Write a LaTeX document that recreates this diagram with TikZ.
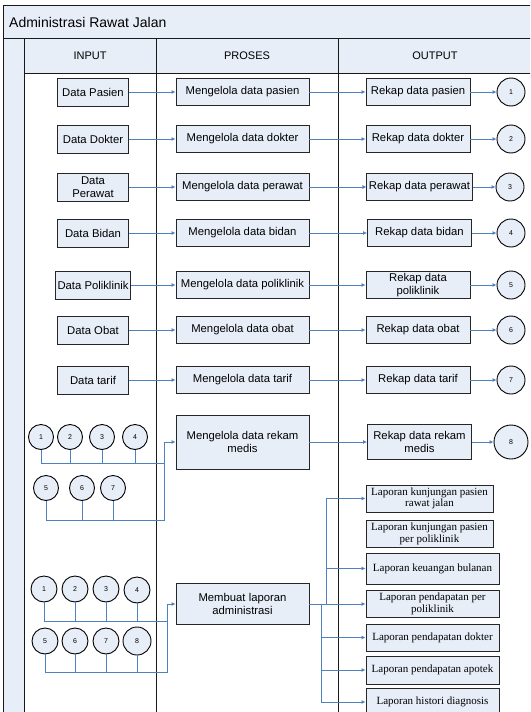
\documentclass[tikz,border=0pt]{standalone}
\usepackage{fontspec}
\setmainfont{Liberation Serif}
\setsansfont{Liberation Sans}
\usetikzlibrary{arrows.meta}
\usetikzlibrary{positioning}

\definecolor{laneblue}{RGB}{232,238,248}
\definecolor{flowblue}{RGB}{79,129,189}

\tikzset{
  lane/.style={draw=black!90, line width=1pt},
  box/.style={rectangle, draw=black!85, line width=0.9pt, fill=laneblue, align=center, inner sep=2pt, font=\sffamily\fontsize{11.3}{12.5}\selectfont},
  inbox/.style={box, minimum width=71pt, minimum height=28pt},
  procbox/.style={box, minimum width=133pt, minimum height=27pt},
  outbox/.style={box, minimum width=104pt, minimum height=27pt},
  repbox/.style={box, minimum width=133pt, minimum height=27pt, font=\rmfamily\fontsize{11}{11.5}\selectfont},
  conn/.style={circle, draw=black, line width=0.9pt, fill=laneblue, minimum size=26pt, inner sep=0pt, font=\sffamily\fontsize{7}{8}\selectfont},
  head/.style={font=\sffamily\fontsize{11}{12}\selectfont},
  wire/.style={draw=flowblue, line width=0.8pt},
  flow/.style={wire, -{Latex[length=4pt,width=4pt]}},
}

\begin{document}
\begin{tikzpicture}[x=1pt, y=-1pt]
 \useasboundingbox (0,0) rectangle (530,712);
 \clip (0,0) rectangle (530,712);

 % swimlane frame
 \fill [laneblue] (3,5) rectangle (540,38);
 \fill [laneblue] (24,38) rectangle (540,73);
 \fill [laneblue] (3,38) rectangle (24,720);
 \draw [lane] (3,5) rectangle (540,720);
 \draw [lane] (3,38) -- (540,38);
 \draw [lane] (24,73) -- (540,73);
 \draw [lane] (24,38) -- (24,720);
 \draw [lane] (156,38) -- (156,720);
 \draw [lane] (338,38) -- (338,720);

 \node [anchor=west, inner sep=0pt, font=\sffamily\fontsize{14}{15}\selectfont] (title) at (9,22) {Administrasi Rawat Jalan};
 \node [head] (hin) at (90,56) {INPUT};
 \node [head] (hpr) at (247,56) {PROSES};
 \node [head] (hout) at (435,56) {OUTPUT};

 % input
 \node [inbox] (in1) at (93,92) {Data Pasien};
 \node [inbox] (in2) at (93,139) {Data Dokter};
 \node [inbox] (in3) at (93,187) {Data\\Perawat};
 \node [inbox] (in4) at (93,233) {Data Bidan};
 \node [inbox] (in5) at (93,285) {Data Poliklinik};
 \node [inbox] (in6) at (93,330) {Data Obat};
 \node [inbox] (in7) at (93,380) {Data tarif};

 % proses
 \node [procbox] (pr1) at (242.5,92) {Mengelola data pasien};
 \node [procbox] (pr2) at (242.5,139) {Mengelola data dokter};
 \node [procbox] (pr3) at (242.5,187) {Mengelola data perawat};
 \node [procbox] (pr4) at (242.5,233) {Mengelola data bidan};
 \node [procbox] (pr5) at (242.5,285) {Mengelola data poliklinik};
 \node [procbox] (pr6) at (242.5,330) {Mengelola data obat};
 \node [procbox] (pr7) at (242.5,380) {Mengelola data tarif};
 \node [procbox, minimum height=54pt] (pr8) at (242.5,442) {Mengelola data rekam\\medis};
 \node [procbox, minimum height=41pt] (pr9) at (242.5,604) {Membuat laporan\\administrasi};

 % output
 \node [outbox] (rk1) at (418,92) {Rekap data pasien};
 \node [outbox] (rk2) at (418,139) {Rekap data dokter};
 \node [outbox] (rk3) at (419.5,187) {Rekap data perawat};
 \node [outbox] (rk4) at (419.5,233) {Rekap data bidan};
 \node [outbox] (rk5) at (418,285) {Rekap data\\poliklinik};
 \node [outbox] (rk6) at (418,330) {Rekap data obat};
 \node [outbox] (rk7) at (418,380) {Rekap data tarif};
 \node [outbox, minimum height=35pt] (rk8) at (419.5,442) {Rekap data rekam\\medis};

 \node [conn, minimum size=28pt] (c1) at (511,92) {1};
 \node [conn, minimum size=28pt] (c2) at (511,139) {2};
 \node [conn, minimum size=28pt] (c3) at (510,187) {3};
 \node [conn, minimum size=28pt] (c4) at (511,233) {4};
 \node [conn, minimum size=28pt] (c5) at (511,285) {5};
 \node [conn, minimum size=28pt] (c6) at (511,330) {6};
 \node [conn, minimum size=28pt] (c7) at (511,380) {7};
 \node [conn, minimum size=34pt] (c8) at (511,442) {8};

 % laporan
 \node [repbox, minimum width=127pt] (lap1) at (429.5,498.5) {Laporan kunjungan pasien\\rawat jalan};
 \node [repbox, minimum width=127pt] (lap2) at (429.5,534) {Laporan kunjungan pasien\\per poliklinik};
 \node [repbox, minimum height=31pt] (lap3) at (432.5,568.5) {Laporan keuangan bulanan};
 \node [repbox] (lap4) at (432.5,604) {Laporan pendapatan per\\poliklinik};
 \node [repbox] (lap5) at (432.5,637.5) {Laporan pendapatan dokter};
 \node [repbox, minimum height=28pt] (lap6) at (432.5,670) {Laporan pendapatan apotek};
 \node [repbox] (lap7) at (432.5,702) {Laporan histori diagnosis};

 % connectors into rekam medis
 \node [conn, minimum size=25pt] (ca1) at (41,437) {1};
 \node [conn, minimum size=25pt] (ca2) at (70,437) {2};
 \node [conn, minimum size=25pt] (ca3) at (102,437) {3};
 \node [conn, minimum size=25pt] (ca4) at (135,437) {4};
 \node [conn, minimum size=25pt] (ca5) at (46,488) {5};
 \node [conn, minimum size=25pt] (ca6) at (82,488) {6};
 \node [conn, minimum size=25pt] (ca7) at (113,488) {7};
 \coordinate (jA) at (164,463);
 \coordinate (jB) at (164,520);

 % connectors into laporan
 \node [conn, minimum size=26pt] (cb1) at (44,589) {1};
 \node [conn, minimum size=26pt] (cb2) at (75,589) {2};
 \node [conn, minimum size=26pt] (cb3) at (106,589) {3};
 \node [conn, minimum size=26pt] (cb4) at (137,590) {4};
 \node [conn, minimum size=26pt] (cb5) at (45,641) {5};
 \node [conn, minimum size=26pt] (cb6) at (75,641) {6};
 \node [conn, minimum size=26pt] (cb7) at (106,641) {7};
 \node [conn, minimum size=28pt] (cb8) at (137,641) {8};
 \coordinate (jC) at (167,621);
 \coordinate (jD) at (167,672);

 \coordinate (kA) at (326,604);
 \coordinate (kB) at (321,604);

 % flows per row
 \draw [flow] (in1) -- (pr1);
 \draw [flow] (in2) -- (pr2);
 \draw [flow] (in3) -- (pr3);
 \draw [flow] (in4) -- (pr4);
 \draw [flow] (in5) -- (pr5);
 \draw [flow] (in6) -- (pr6);
 \draw [flow] (in7) -- (pr7);
 \draw [flow] (pr1) -- (rk1);
 \draw [flow] (pr2) -- (rk2);
 \draw [flow] (pr3) -- (rk3);
 \draw [flow] (pr4) -- (rk4);
 \draw [flow] (pr5) -- (rk5);
 \draw [flow] (pr6) -- (rk6);
 \draw [flow] (pr7) -- (rk7);
 \draw [flow] (pr8) -- (rk8);
 \draw [flow] (rk1) -- (c1);
 \draw [flow] (rk2) -- (c2);
 \draw [flow] (rk3) -- (c3);
 \draw [flow] (rk4) -- (c4);
 \draw [flow] (rk5) -- (c5);
 \draw [flow] (rk6) -- (c6);
 \draw [flow] (rk7) -- (c7);
 \draw [flow] (rk8) -- (c8);

 \draw [wire] (ca1.south) |- (jA);
 \draw [wire] (ca2.south) -- (ca2.south |- jA);
 \draw [wire] (ca3.south) -- (ca3.south |- jA);
 \draw [wire] (ca4.south) -- (ca4.south |- jA);
 \draw [wire] (ca6.south) -- (ca6.south |- jB);
 \draw [wire] (ca7.south) -- (ca7.south |- jB);
 \draw [flow] (ca5.south) |- (jB) |- (pr8.west);

 \draw [wire] (cb1.south) |- (jC);
 \draw [wire] (cb2.south) -- (cb2.south |- jC);
 \draw [wire] (cb3.south) -- (cb3.south |- jC);
 \draw [wire] (cb4.south) -- (cb4.south |- jC);
 \draw [wire] (cb6.south) -- (cb6.south |- jD);
 \draw [wire] (cb7.south) -- (cb7.south |- jD);
 \draw [wire] (cb8.south) -- (cb8.south |- jD);
 \draw [flow] (cb5.south) |- (jD) |- (pr9.west);

 \draw [flow] (pr9) -- (lap4);
 \draw [flow] (kA) |- (lap1.west);
 \draw [flow] (kA) |- (lap3.west);
 \draw [flow] (kB) |- (lap5.west);
 \draw [flow] (kB) |- (lap6.west);
 \draw [flow] (kB) |- (lap7.west);
\end{tikzpicture}
\end{document}
